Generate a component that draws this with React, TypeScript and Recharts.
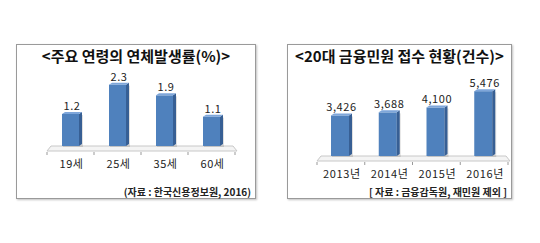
import React from 'react';
import { BarChart, Bar, XAxis, YAxis, LabelList } from 'recharts';

const ageCategories = ['19세', '25세', '35세', '60세'];
const ageRates = [1.2, 2.3, 1.9, 1.1];

const yearCategories = ['2013년', '2014년', '2015년', '2016년'];
const complaintCounts = [3426, 3688, 4100, 5476];

const ageData = ageCategories.map((name, i) => ({ name, value: ageRates[i] }));
const yearData = yearCategories.map((name, i) => ({ name, value: complaintCounts[i] }));

const FONT = '"Noto Sans CJK KR", "Noto Sans", sans-serif';

const Bar3D = (props: any) => {
    const { x, y, width, height } = props;
    const d = 3;
    const fw = width - d;
    return (
        <g>
            <rect x={x + 1} y={y + 1} width={width} height={height} fill="#000" opacity={0.12} />
            <rect x={x} y={y} width={fw} height={height} fill="#4F81BD" />
            <polygon
                points={`${x + fw},${y} ${x + width},${y - 2} ${x + width},${y + height - 2} ${x + fw},${y + height}`}
                fill="#375F94"
            />
            <polygon
                points={`${x},${y} ${x + d},${y - 2} ${x + width},${y - 2} ${x + fw},${y}`}
                fill="#7EA6DA"
            />
        </g>
    );
};

const Tick = ({ x, y, payload }: any) => (
    <text x={x} y={y + 14} textAnchor="middle" fontSize={11} fill="#222" fontFamily={FONT} letterSpacing={0.6}>
        {payload.value}
    </text>
);

const Floor = ({ left, right, base }: { left: number; right: number; base: number }) => {
    const step = (right - left) / 4;
    return (
        <svg width={540} height={243} style={{ position: 'absolute', left: 0, top: 0 }}>
            <polygon
                points={`${left + 3},${base - 5} ${right - 3},${base - 5} ${right + 1},${base} ${left - 1},${base}`}
                fill="#f4f4f4"
                stroke="#c8c8c8"
                strokeWidth={1}
            />
            {[0, 1, 2, 3, 4].map((i) => (
                <line
                    key={i}
                    x1={left - 1 + i * step}
                    x2={left - 1 + i * step}
                    y1={base + 1}
                    y2={base + 4}
                    stroke="#999"
                />
            ))}
        </svg>
    );
};

const Panel = ({ left, width, title, source, children }: any) => (
    <div
        style={{
            position: 'absolute',
            left,
            top: 44,
            width,
            height: 155,
            border: '1px solid #9a9a9a',
            boxShadow: '1px 1px 2px rgba(0,0,0,0.25)',
            boxSizing: 'border-box',
        }}
    >
        <div
            style={{
                position: 'absolute',
                left: 0,
                right: 0,
                top: 0,
                textAlign: 'center',
                fontFamily: FONT,
                fontWeight: 700,
                fontSize: 15,
                color: '#111',
            }}
        >
            {title}
        </div>
        <div
            style={{
                position: 'absolute',
                right: 4,
                top: 141,
                fontFamily: FONT,
                fontWeight: 700,
                fontSize: 10,
                lineHeight: '11px',
                color: '#222',
            }}
        >
            {source}
        </div>
        {children}
    </div>
);

export default function App() {
    return (
        <div style={{ position: 'absolute', left: 0, top: 0, width: 540, height: 243, background: '#fff' }}>
            <Panel left={16} width={240} title="<주요 연령의 연체발생률(%)>" source="(자료 : 한국신용정보원, 2016)" />
            <Panel left={287} width={225} title="<20대 금융민원 접수 현황(건수)>" source="[ 자료 : 금융감독원, 재민원 제외 ]" />

            <Floor left={48} right={236} base={151} />
            <Floor left={318} right={509} base={161} />

            <div style={{ position: 'absolute', left: 16, top: 60 }}>
                <BarChart width={240} height={112} data={ageData} margin={{ top: 6, right: 20, bottom: 0, left: 32 }}>
                    <XAxis dataKey="name" axisLine={false} tickLine={false} tick={<Tick />} height={26} interval={0} />
                    <YAxis hide domain={[0, 3]} />
                    <Bar dataKey="value" barSize={20} shape={<Bar3D />} isAnimationActive={false}>
                        <LabelList
                            dataKey="value"
                            position="top"
                            offset={4}
                            fontSize={11}
                            fill="#222"
                            fontFamily={FONT}
                            letterSpacing={0.6}
                            formatter={(v: any) => Number(v).toFixed(1)}
                        />
                    </Bar>
                </BarChart>
            </div>

            <div style={{ position: 'absolute', left: 287, top: 65 }}>
                <BarChart width={225} height={117} data={yearData} margin={{ top: 20, right: 3, bottom: 0, left: 31 }}>
                    <XAxis dataKey="name" axisLine={false} tickLine={false} tick={<Tick />} height={26} interval={0} />
                    <YAxis hide domain={[0, 6000]} />
                    <Bar dataKey="value" barSize={21} shape={<Bar3D />} isAnimationActive={false}>
                        <LabelList
                            dataKey="value"
                            position="top"
                            offset={4}
                            fontSize={11}
                            fill="#222"
                            fontFamily={FONT}
                            letterSpacing={0.6}
                            formatter={(v: any) => Number(v).toLocaleString('en-US')}
                        />
                    </Bar>
                </BarChart>
            </div>
        </div>
    );
}
